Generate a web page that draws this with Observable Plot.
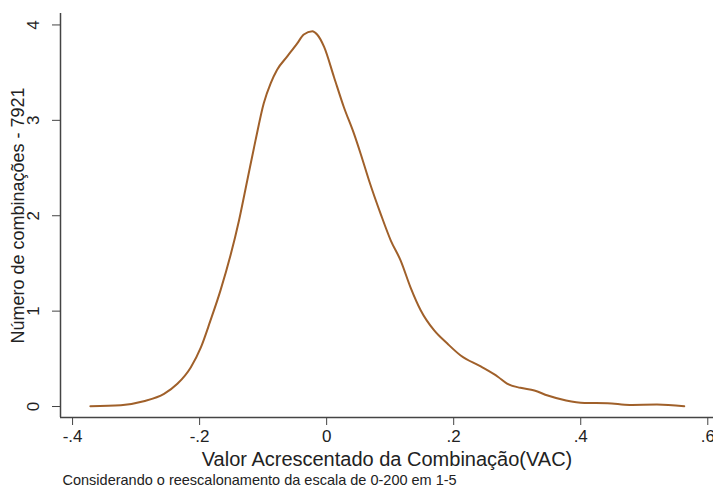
<!DOCTYPE html>
<html><head><meta charset="utf-8">
<script src="https://cdn.jsdelivr.net/npm/d3@7"></script>
<script src="https://cdn.jsdelivr.net/npm/@observablehq/plot@0.6"></script>
<style>body{margin:0;background:#fff;overflow:hidden}</style>
</head><body><div id="chart"></div>
<script>
const vac = [-0.372,-0.324,-0.288,-0.256,-0.235,-0.214,-0.198,-0.183,-0.167,-0.138,-0.125,-0.112,-0.099,-0.088,-0.078,-0.062,-0.046,-0.036,-0.0225,-0.015,-0.004,0.0115,0.027,0.043,0.0535,0.0667,0.085,0.101,0.1165,0.132,0.148,0.169,0.19,0.211,0.2425,0.27,0.284,0.305,0.327,0.348,0.377,0.406,0.442,0.477,0.52,0.563];
const density = [0.003,0.014,0.056,0.133,0.238,0.41,0.62,0.9,1.22,1.95,2.37,2.79,3.18,3.39,3.53,3.67,3.81,3.9,3.935,3.9,3.77,3.455,3.14,2.86,2.65,2.37,2.02,1.74,1.53,1.25,1.01,0.8,0.66,0.535,0.42,0.31,0.24,0.196,0.168,0.115,0.063,0.038,0.035,0.017,0.02,0.003];
const xTicks = [-0.4,-0.2,0,0.2,0.4,0.6];
const xTickLabels = ["-.4","-.2","0",".2",".4",".6"];
const yTicks = [0,1,2,3,4];
const xTitle = "Valor Acrescentado da Combinação(VAC)";
const yTitle = "Número de combinações - 7921";
const caption = "Considerando o reescalonamento da escala de 0-200 em 1-5";

const data = vac.map((x,i)=>({x, y: density[i]}));
const xDom = [-0.419, 0.609];
const yDom = [-0.115, 4.12];
const axisColor = "#444";
const chart = Plot.plot({
  width: 713, height: 491,
  marginLeft: 60, marginRight: 0, marginTop: 13, marginBottom: 74,
  style: {fontFamily: "'Liberation Sans', Arial, sans-serif", background: "#fff", color: "#222"},
  x: {domain: xDom},
  y: {domain: yDom},
  marks: [
    Plot.ruleX([xDom[0]], {stroke: axisColor, strokeWidth: 1.5}),
    Plot.ruleY([yDom[0]], {stroke: axisColor, strokeWidth: 1.5}),
    Plot.axisX({ticks: xTicks, tickFormat: d => xTickLabels[xTicks.indexOf(d)], tickSize: 8, tickPadding: 4, fontSize: 17, stroke: axisColor, label: null}),
    Plot.axisY({ticks: yTicks, tickFormat: d => String(d), tickSize: 8, tickRotate: -90, tickPadding: 14, fontSize: 17, stroke: axisColor, label: null}),
    Plot.text([xTitle], {frameAnchor: "bottom", dy: 48, fontSize: 20, fill: "#222"}),
    Plot.text([yTitle], {frameAnchor: "left", textAnchor: "middle", dx: -42, rotate: -90, fontSize: 18, fill: "#222"}),
    Plot.text([caption], {frameAnchor: "bottom-left", dx: 2, dy: 67, textAnchor: "start", fontSize: 14.5, fill: "#222"}),
    Plot.line(data, {x: "x", y: "y", stroke: "#a0602a", strokeWidth: 2, curve: "monotone-x"})
  ]
});
document.getElementById("chart").append(chart);
</script></body></html>
